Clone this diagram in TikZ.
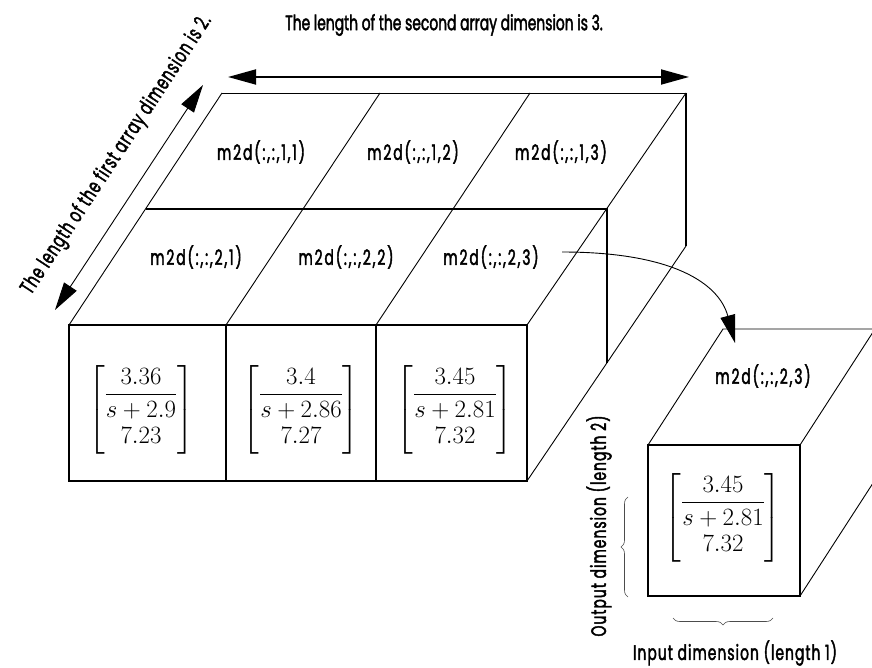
\documentclass[tikz,border=0pt]{standalone}
\usepackage{amsmath}
\usepackage[no-math]{fontspec}
\newfontfamily\labelfont{Poppins}[FakeStretch=0.66,FakeBold=2]
\newfontfamily\cellfont{Poppins}[FakeStretch=0.66,FakeBold=2,LetterSpace=9]
\newfontfamily\dimfont{Poppins}[FakeStretch=0.66,FakeBold=2,LetterSpace=5]
\usetikzlibrary{arrows.meta,decorations.pathreplacing}

\begin{document}
\begin{tikzpicture}[x=1pt,y=-1pt,
    >={Triangle[length=28pt,width=15pt]},
    lbl/.style={font=\labelfont\fontsize{21}{24}\selectfont,inner sep=0pt},
    cell/.style={font=\cellfont\fontsize{21}{24}\selectfont,inner sep=0pt},
    dim/.style={font=\dimfont\fontsize{21}{24}\selectfont,inner sep=0pt},
    tf/.style={font=\fontsize{23}{27}\selectfont,inner sep=0pt},
    rim/.style={line width=1.6pt},
    slant/.style={line width=0.9pt},
    dimbrace/.style={decorate,decoration={brace,amplitude=7pt},line width=0.6pt,black!70}]
   \useasboundingbox (0,0) rectangle (872,668);
   % corners of the big block: front, middle and back rows
   \coordinate (f0) at (69,325);  \coordinate (f1) at (226,325);
   \coordinate (f2) at (376,325); \coordinate (f3) at (527,325);
   \coordinate (m0) at (146,209); \coordinate (m3) at (607,209);
   \coordinate (b0) at (222,93);  \coordinate (b1) at (380,93);
   \coordinate (b2) at (530,93);  \coordinate (b3) at (686,93);
   \coordinate (fb0) at (69,481);  \coordinate (fb1) at (226,481);
   \coordinate (fb2) at (376,481); \coordinate (fb3) at (527,481);
   \coordinate (mb3) at (607,363); \coordinate (bb3) at (686,246);
   % big block
   \draw[rim] (f0) -- (f3) -- (fb3) -- (fb0) -- cycle;
   \draw[rim] (f1) -- (fb1) (f2) -- (fb2);
   \draw[rim] (m0) -- (m3) -- (mb3) (b3) -- (bb3);
   \draw[slant] (b0) -- (b3);
   \draw[slant] (f0) -- (b0) (f1) -- (b1) (f2) -- (b2) (f3) -- (b3);
   \draw[slant] (fb3) -- (bb3);
   % small block
   \coordinate (s0) at (648,445);  \coordinate (s1) at (800,445);
   \coordinate (sb0) at (648,596); \coordinate (sb1) at (800,596);
   \coordinate (t0) at (723,329);  \coordinate (t1) at (875,329);
   \coordinate (tb1) at (875,480);
   \draw[line width=1.2pt] (s0) -- (s1) -- (sb1) -- (sb0) -- cycle;
   \draw[slant] (s0) -- (t0) -- (t1) (s1) -- (t1) -- (tb1) (sb1) -- (tb1);
   % labels on the top faces
   \node[cell] (l11) at (261,152) {m2d(:,:,1,1)};
   \node[cell] (l12) at (413,152) {m2d(:,:,1,2)};
   \node[cell] (l13) at (561,152) {m2d(:,:,1,3)};
   \node[cell] (l21) at (196,257) {m2d(:,:,2,1)};
   \node[cell] (l22) at (346,257) {m2d(:,:,2,2)};
   \node[cell] (l23) at (491,257) {m2d(:,:,2,3)};
   \node[cell] (s23) at (763,376) {m2d(:,:,2,3)};
   % transfer functions on the front faces
   \node[tf] (tf1) at (141,410) {$\begin{bmatrix}\dfrac{3.36}{s+2.9}\\[16pt] 7.23\end{bmatrix}$};
   \node[tf] (tf2) at (301,410) {$\begin{bmatrix}\dfrac{3.4}{s+2.86}\\[16pt] 7.27\end{bmatrix}$};
   \node[tf] (tf3) at (455,410) {$\begin{bmatrix}\dfrac{3.45}{s+2.81}\\[16pt] 7.32\end{bmatrix}$};
   \node[tf] (tfs) at (723,518) {$\begin{bmatrix}\dfrac{3.45}{s+2.81}\\[16pt] 7.32\end{bmatrix}$};
   % dimensions
   \node[lbl] (dim2) at (444,25) {The length of the second array dimension is 3.};
   \node[dim,rotate=56.7] (dim1) at (117,155) {The length of the first array dimension is 2.};
   \node[dim,rotate=90] (outdim) at (599,526) {Output dimension (length 2)};
   \node[dim] (indim) at (735,653) {Input dimension (length 1)};
   \coordinate (a0) at (228,77); \coordinate (a1) at (689,77);
   \draw[<->,line width=1.8pt] (a0) -- (a1);
   \coordinate (d0) at (55,310); \coordinate (d1) at (203,85);
   \draw[<->,line width=0.9pt] (d0) -- (d1);
   \coordinate (c0) at (562,252); \coordinate (c1) at (735,343);
   \draw[->,line width=0.9pt] (c0) .. controls (672,252) and (719,283) .. (c1);
   \coordinate (ob0) at (628,597); \coordinate (ob1) at (628,497);
   \draw[dimbrace] (ob0) -- (ob1);
   \coordinate (ib0) at (773,618); \coordinate (ib1) at (673,618);
   \draw[dimbrace] (ib0) -- (ib1);
\end{tikzpicture}
\end{document}
